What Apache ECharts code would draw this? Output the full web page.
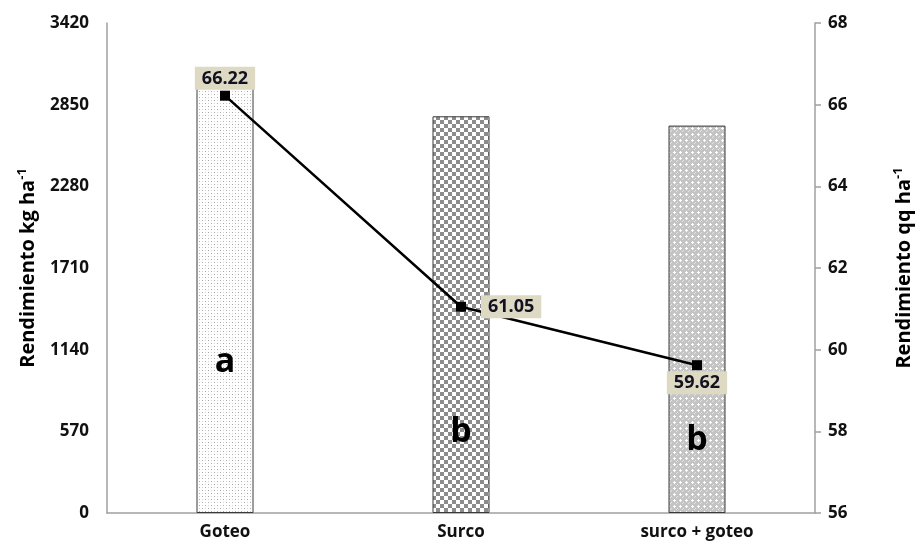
<!DOCTYPE html>
<html>
<head>
<meta charset="utf-8">
<script src="https://cdn.jsdelivr.net/npm/echarts@6/dist/echarts.min.js"></script>
<style>html,body{margin:0;padding:0;background:#fff}#c{width:922px;height:550px}</style>
</head>
<body>
<div id="c"></div>
<script>
const categories = ['Goteo', 'Surco', 'surco + goteo'];
const barValuesKg = [3004, 2769, 2704];
const lineValuesQq = [66.22, 61.05, 59.62];
const letters = ['a', 'b', 'b'];
const letterLevels = [1050, 560, 505];
const leftTicks = [0, 570, 1140, 1710, 2280, 2850, 3420];
const rightTicks = [56, 58, 60, 62, 64, 66, 68];

function makePattern(size, draw) {
  const c = document.createElement('canvas');
  c.width = size; c.height = size;
  const g = c.getContext('2d');
  draw(g);
  return { image: c, repeat: 'repeat' };
}
const patDots = makePattern(6, g => {
  g.fillStyle = '#fff'; g.fillRect(0, 0, 6, 6);
  g.fillStyle = '#a8a8a8';
  g.fillRect(1, 1, 1, 1); g.fillRect(4, 4, 1, 1);
  g.fillStyle = '#d4d4d4';
  g.fillRect(4, 1, 1, 1); g.fillRect(1, 4, 1, 1);
});
const patChecker = makePattern(8, g => {
  g.fillStyle = '#fff'; g.fillRect(0, 0, 8, 8);
  g.fillStyle = '#8c8c8c';
  g.fillRect(0, 0, 4, 4); g.fillRect(4, 4, 4, 4);
});
const patLattice = makePattern(6, g => {
  g.fillStyle = '#c4c4c4'; g.fillRect(0, 0, 6, 6);
  g.fillStyle = '#ffffff';
  g.fillRect(2, 1, 1, 3); g.fillRect(1, 2, 3, 1);
  g.fillStyle = '#e6e6e6';
  g.fillRect(5, 4, 1, 1); g.fillRect(4, 5, 1, 1);
});
const patterns = [patDots, patChecker, patLattice];

const FONT = '"Open Sans", Lato, sans-serif';
const labelPositions = ['top', 'right', 'bottom'];
const labelDistances = [1, 15, 1];

const titleRich = {
  t: { fontFamily: FONT, fontWeight: 'bold', fontSize: 20, color: '#000' },
  s: { fontFamily: FONT, fontWeight: 'bold', fontSize: 13, color: '#000', padding: [0, 0, 11, 0] }
};

const chart = echarts.init(document.getElementById('c'), null, { renderer: 'canvas' });
chart.setOption({
  animation: false,
  backgroundColor: '#fff',
  grid: { left: 107, right: 97, top: 23, bottom: 37 },
  xAxis: {
    type: 'category',
    data: categories,
    axisLine: { lineStyle: { color: '#a0a0a0', width: 1.5 } },
    axisTick: { show: false },
    axisLabel: { color: '#111', fontFamily: FONT, fontWeight: 'bold', fontSize: 17, margin: 11 }
  },
  yAxis: [
    {
      type: 'value', min: leftTicks[0], max: leftTicks[leftTicks.length - 1], interval: 570,
      axisLine: { show: true, lineStyle: { color: '#a0a0a0', width: 1.5 } },
      axisTick: { show: false },
      splitLine: { show: false },
      axisLabel: { color: '#111', fontFamily: FONT, fontWeight: 'bold', fontSize: 17, margin: 18,
        formatter: v => String(v) },
      name: '{t|Rendimiento kg ha}{s|-1}',
      nameLocation: 'middle', nameRotate: 90, nameGap: 67,
      nameTextStyle: { rich: titleRich }
    },
    {
      type: 'value', min: rightTicks[0], max: rightTicks[rightTicks.length - 1], interval: 2,
      position: 'right',
      axisLine: { show: true, lineStyle: { color: '#a0a0a0', width: 1.5 } },
      axisTick: { show: true, length: 6, lineStyle: { color: '#a0a0a0', width: 1.5 } },
      splitLine: { show: false },
      axisLabel: { color: '#111', fontFamily: FONT, fontWeight: 'bold', fontSize: 17, margin: 13 },
      name: '{t|Rendimiento qq ha}{s|-1}',
      nameLocation: 'middle', nameRotate: 90, nameGap: 77,
      nameTextStyle: { rich: titleRich }
    }
  ],
  series: [
    {
      type: 'bar',
      yAxisIndex: 0,
      barWidth: 57,
      data: barValuesKg.map((v, i) => ({
        value: v,
        itemStyle: { color: patterns[i], borderColor: '#3a3a3a', borderWidth: 1 }
      })),
      z: 2
    },
    {
      type: 'scatter',
      yAxisIndex: 0,
      symbolSize: 0,
      silent: true,
      itemStyle: { opacity: 1 },
      data: letterLevels.map((v, i) => ({ value: v, name: letters[i] })),
      label: {
        show: true, position: 'inside',
        formatter: p => p.name,
        fontFamily: FONT, fontWeight: 'bold', fontSize: 34, color: '#000',
        textBorderWidth: 0, opacity: 1
      },
      z: 3
    },
    {
      type: 'line',
      yAxisIndex: 1,
      symbol: 'rect',
      symbolSize: 10,
      lineStyle: { color: '#000', width: 2.5 },
      itemStyle: { color: '#000' },
      data: lineValuesQq.map((v, i) => ({
        value: v,
        label: { position: labelPositions[i], distance: labelDistances[i] }
      })),
      label: {
        show: true,
        formatter: p => p.value.toFixed(2),
        fontFamily: FONT, fontWeight: 'bold', fontSize: 18, color: '#111122',
        backgroundColor: '#ddd9c3', padding: [3, 7, 2, 7]
      },
      z: 5
    }
  ]
});
</script>
</body>
</html>
